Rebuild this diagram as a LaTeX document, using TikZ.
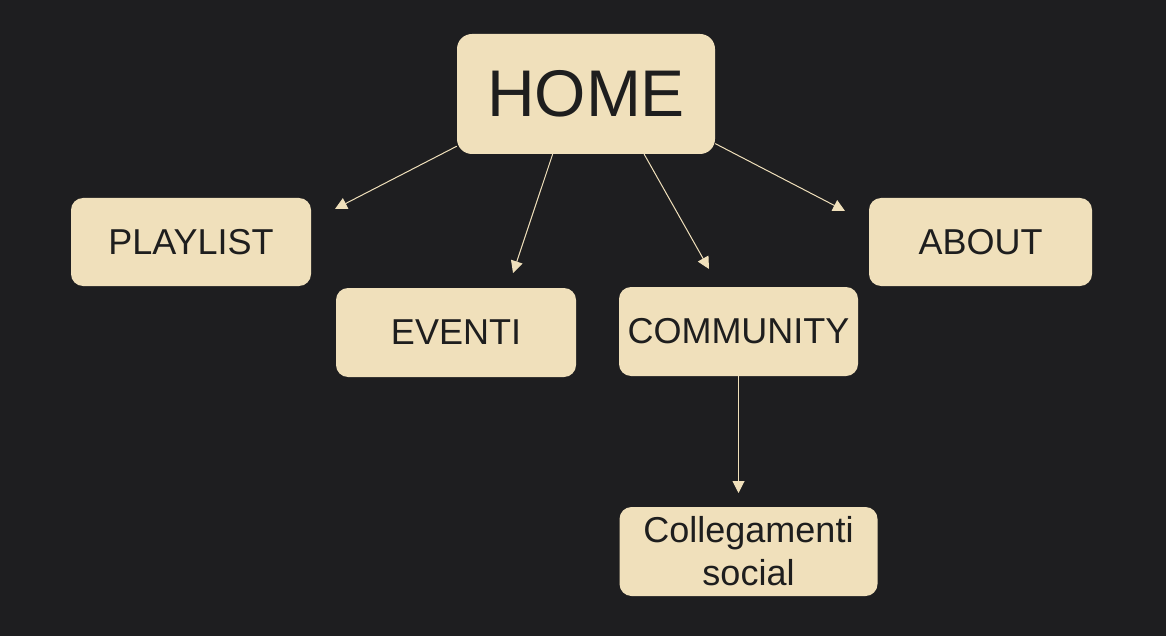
\documentclass[tikz,border=0pt]{standalone}
\usepackage{fontspec}
\setmainfont{Liberation Sans}
\usetikzlibrary{arrows.meta}
\definecolor{bg}{HTML}{1E1E20}
\definecolor{boxfill}{HTML}{F0E0BB}
\definecolor{ink}{HTML}{1E1E1E}
\tikzset{
  box/.style={draw=none, fill=boxfill, rounded corners=12pt, text=ink, inner sep=0pt, align=center,
    font=\fontsize{36}{43}\selectfont},
  link/.style={draw=boxfill, line width=1pt, -{Triangle[length=12pt,width=12pt]}}
}
\begin{document}
\begin{tikzpicture}[x=1pt,y=-1pt]
\fill[bg] (0,0) rectangle (1166,636);
\useasboundingbox (0,0) rectangle (1166,636);
\node[box, minimum width=258pt, minimum height=120pt, rounded corners=15pt, font=\fontsize{66}{70}\selectfont] (home) at (586,94) {HOME};
\node[box, minimum width=240pt, minimum height=88pt] (playlist) at (191,242) {PLAYLIST};
\node[box, minimum width=223pt, minimum height=88pt] (about) at (980.5,242) {ABOUT};
\node[box, minimum width=240pt, minimum height=89pt] (eventi) at (456,332.5) {EVENTI};
\node[box, minimum width=239pt, minimum height=89pt] (community) at (738.5,331.5) {COMMUNITY};
\node[box, minimum width=258pt, minimum height=89pt] (social) at (748.5,551.5) {Collegamenti\\social};
\coordinate (tp) at (335,209);
\coordinate (te) at (513,273);
\coordinate (tc) at (709,269);
\coordinate (ta) at (845,211);
\coordinate (ts) at (738.5,493);
\draw[link] (home.202.5) -- (tp);
\draw[link] (home.241) -- (te);
\draw[link] (home.314.5) -- (tc);
\draw[link] (home.339) -- (ta);
\draw[link] (community.south) -- (ts);
\end{tikzpicture}
\end{document}
